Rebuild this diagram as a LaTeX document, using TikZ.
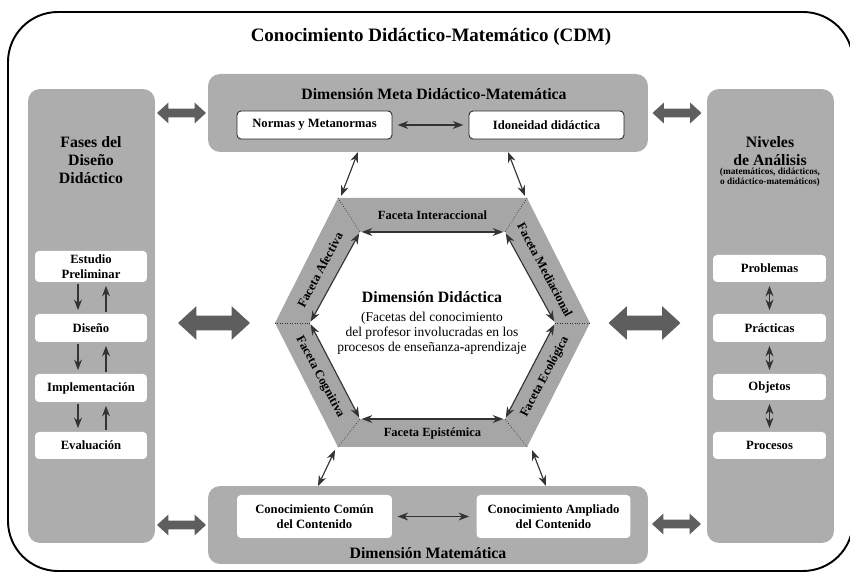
\documentclass[tikz,border=0pt]{standalone}
\usepackage{fontspec}
\setmainfont{Liberation Serif}
\usetikzlibrary{shapes.arrows,arrows.meta}

\definecolor{panelgray}{HTML}{ADADAD}
\definecolor{hexgray}{HTML}{A6A6A6}
\definecolor{arrowgray}{HTML}{5E5E5E}
\definecolor{tipgray}{HTML}{333333}

\tikzset{
  panel/.style={fill=panelgray,rounded corners=0.24cm,inner sep=0pt},
  itembox/.style={fill=white,rounded corners=0.08cm,inner sep=0pt,align=center,
    font=\bfseries\fontsize{7.2}{8.4}\selectfont},
  normbox/.style={itembox,draw=black!85,line width=0.5pt},
  heading/.style={font=\bfseries\fontsize{9}{10.2}\selectfont,align=center},
  facetlabel/.style={font=\bfseries\fontsize{7.1}{8}\selectfont},
  bigarrow/.style={double arrow,fill=arrowgray,inner sep=0.14cm,
    double arrow head extend=0.19cm,double arrow tip angle=85,minimum height=1.44cm},
  smallarrow/.style={double arrow,fill=arrowgray,inner sep=0.08cm,
    double arrow head extend=0.12cm,double arrow tip angle=85,minimum height=0.98cm},
  link/.style={draw=tipgray,line width=0.65pt,
    {Stealth[length=6pt,width=4.5pt]}-{Stealth[length=6pt,width=4.5pt]}},
  flow/.style={draw=tipgray,line width=0.65pt,-{Stealth[length=6pt,width=4.5pt]}}
}

\begin{document}
\begin{tikzpicture}[x=0.02cm,y=-0.02cm]
  \useasboundingbox (0,0) rectangle (850,573);

  % outer frame
  \draw[line width=1.1pt,rounded corners=1cm] (8,12) rectangle (853,571);
  \node[font=\bfseries\fontsize{10.8}{12}\selectfont] (cdm) at (431,37)
    {Conocimiento Didáctico-Matemático (CDM)};

  % panels
  \node[panel,minimum width=8.8cm,minimum height=1.56cm] (meta) at (428,113) {};
  \node[panel,minimum width=8.8cm,minimum height=1.56cm] (mat) at (428,525) {};
  \node[panel,minimum width=2.54cm,minimum height=9.08cm] (fases) at (91.5,316) {};
  \node[panel,minimum width=2.54cm,minimum height=9.08cm] (niveles) at (770.5,316) {};

  % Dimension Meta Didactico-Matematica
  \node[heading] (metatit) at (434,94) {Dimensión Meta Didáctico-Matemática};
  \node[normbox,minimum width=3.1cm,minimum height=0.56cm] (normas) at (314.5,125)
    {Normas y Metanormas};
  \node[normbox,minimum width=3.1cm,minimum height=0.56cm] (idon) at (546.5,125)
    {Idoneidad didáctica};
  \draw[link,shorten <=3pt,shorten >=3pt] (normas) -- (idon);

  % Dimension Matematica
  \node[heading] (mattit) at (428,553) {Dimensión Matemática};
  \node[itembox,minimum width=3.1cm,minimum height=0.86cm] (comun) at (314.5,516.5)
    {Conocimiento Común\\del Contenido};
  \node[itembox,minimum width=3.08cm,minimum height=0.86cm] (ampl) at (553.5,516.5)
    {Conocimiento Ampliado\\del Contenido};
  \draw[link,shorten <=3pt,shorten >=4pt] (comun) -- (ampl);

  % Fases del Diseno Didactico
  \node[heading] (fasestit) at (91,160) {Fases del\\Diseño\\Didáctico};
  \node[itembox,minimum width=2.24cm,minimum height=0.62cm] (estudio) at (91,266.5)
    {Estudio\\Preliminar};
  \node[itembox,minimum width=2.24cm,minimum height=0.56cm] (diseno) at (91,328) {Diseño};
  \node[itembox,minimum width=2.24cm,minimum height=0.56cm] (impl) at (91,388) {Implementación};
  \node[itembox,minimum width=2.24cm,minimum height=0.54cm] (eval) at (91,445.5) {Evaluación};
  \foreach \a/\b in {estudio/diseno,diseno/impl,impl/eval}{
    \draw[flow,shorten <=1pt,shorten >=2pt] ([xshift=-0.26cm]\a.south) -- ([xshift=-0.26cm]\b.north);
    \draw[flow,shorten <=1pt,shorten >=2pt] ([xshift=0.3cm]\b.north) -- ([xshift=0.3cm]\a.south);
  }

  % Niveles de Analisis
  \node[heading] (nivtit) at (770,151) {Niveles\\de Análisis};
  \node[font=\bfseries\fontsize{5.3}{5.7}\selectfont,align=center] (nivsub) at (770,177)
    {(matemáticos, didácticos,\\o didáctico-matemáticos)};
  \node[itembox,minimum width=2.26cm,minimum height=0.54cm] (probl) at (769.5,268.5) {Problemas};
  \node[itembox,minimum width=2.26cm,minimum height=0.56cm] (pract) at (769.5,328) {Prácticas};
  \node[itembox,minimum width=2.26cm,minimum height=0.52cm] (objet) at (769.5,387) {Objetos};
  \node[itembox,minimum width=2.26cm,minimum height=0.54cm] (proce) at (769.5,445.5) {Procesos};
  \foreach \a/\b in {probl/pract,pract/objet,objet/proce}
    \draw[link,shorten <=2pt,shorten >=2pt] (\a) -- (\b);

  % big arrows between the parts
  \node[bigarrow] (arrl) at (214,323) {};
  \node[bigarrow] (arrr) at (644.5,323) {};
  \node[smallarrow] (arrtl) at (181.5,113) {};
  \node[smallarrow] (arrtr) at (677,113) {};
  \node[smallarrow] (arrbl) at (181.5,525) {};
  \node[smallarrow] (arrbr) at (676.5,524) {};

  % hexagon of the facets
  \coordinate (ot1) at (338,198); \coordinate (ot2) at (527,198);
  \coordinate (or) at (590,323);  \coordinate (ob2) at (527,447);
  \coordinate (ob1) at (338,447); \coordinate (ol) at (275,323);
  \coordinate (it1) at (360,232); \coordinate (it2) at (505,232);
  \coordinate (ir) at (555,323);  \coordinate (ib2) at (505,419);
  \coordinate (ib1) at (360,419); \coordinate (il) at (310,323);
  \fill[hexgray] (ot1) -- (ot2) -- (or) -- (ob2) -- (ob1) -- (ol) -- cycle;
  \fill[white] (it1) -- (it2) -- (ir) -- (ib2) -- (ib1) -- (il) -- cycle;
  \foreach \o/\i in {ot1/it1,ot2/it2,or/ir,ob2/ib2,ob1/ib1,ol/il}
    \draw[tipgray,densely dotted,line width=0.4pt] (\o) -- (\i);
  \foreach \a/\b in {it1/it2,it2/ir,ir/ib2,ib2/ib1,ib1/il,il/it1}
    \draw[link,shorten <=1pt,shorten >=1pt] (\a) -- (\b);

  \node[facetlabel] (inter) at (432.5,215) {Faceta Interaccional};
  \node[facetlabel] (epist) at (432.5,434) {Faceta Epistémica};
  \node[facetlabel,rotate=62] (afect) at (320,270) {Faceta Afectiva};
  \node[facetlabel,rotate=-62] (media) at (545,270) {Faceta Mediacional};
  \node[facetlabel,rotate=-62] (cogn) at (320,377) {Faceta Cognitiva};
  \node[facetlabel,rotate=62] (ecol) at (545,377) {Faceta Ecológica};

  \node[font=\bfseries\fontsize{9}{10}\selectfont] (didtit) at (432,297) {Dimensión Didáctica};
  \node[font=\fontsize{7.7}{8.6}\selectfont,align=center] (didsub) at (432,333)
    {(Facetas del conocimiento\\del profesor involucradas en los\\procesos de enseñanza\textbf{-}aprendizaje};

  % links between the hexagon and the dimensions
  \coordinate (hl1) at (341,196); \coordinate (ml1) at (358,152);
  \coordinate (hl2) at (525,196); \coordinate (ml2) at (508,152);
  \coordinate (hl3) at (335,450); \coordinate (ml3) at (318,486);
  \coordinate (hl4) at (532,450); \coordinate (ml4) at (546,486);
  \foreach \h/\m in {hl1/ml1,hl2/ml2,hl3/ml3,hl4/ml4}
    \draw[link] (\h) -- (\m);
\end{tikzpicture}
\end{document}
